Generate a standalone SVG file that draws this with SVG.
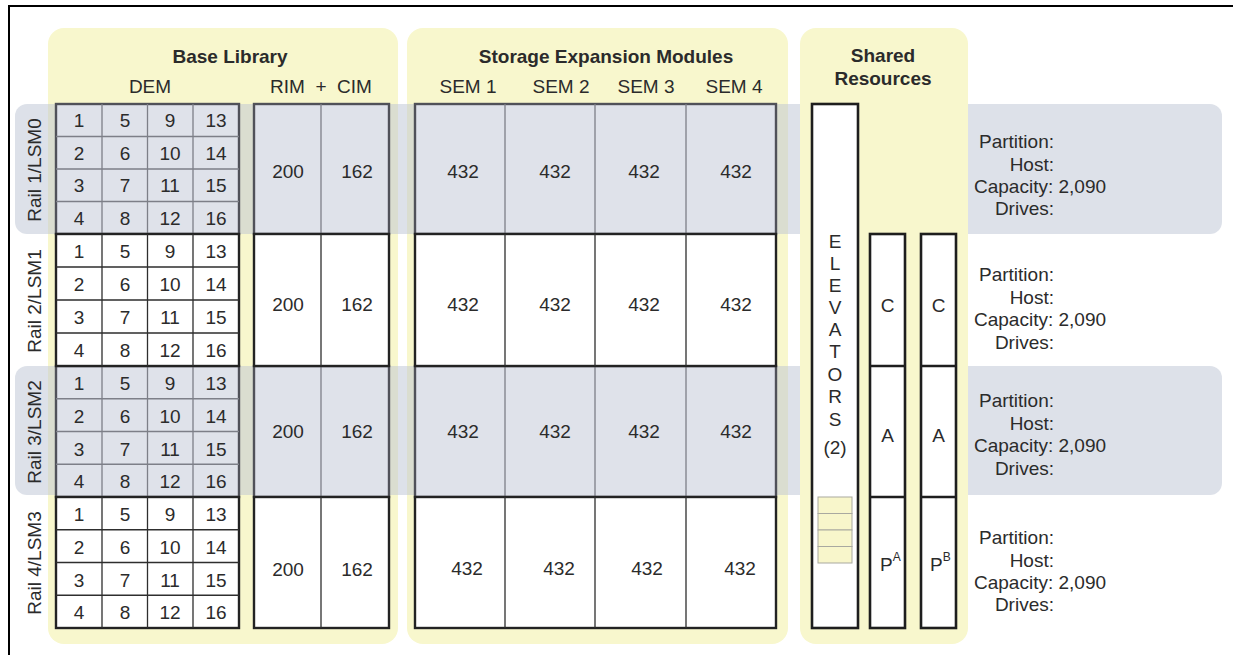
<svg xmlns="http://www.w3.org/2000/svg" width="1233" height="655" viewBox="0 0 1233 655">
<style>
text{font-family:"Liberation Sans",Arial,sans-serif;font-size:19px;fill:#2b2b2b}
.t{font-weight:bold}
.c{text-anchor:middle}
.e{text-anchor:end}
.panel{fill:#f8f7cd}
.band{fill:#bcc3d4;fill-opacity:0.5}
.gO{fill:#dfe2ea;stroke:#505159;stroke-width:2.4}
.gI{stroke:#7d7f88;stroke-width:1.3;fill:none}
.wO{fill:#fff;stroke:#232323;stroke-width:2.4}
.wI{stroke:#2e2e2e;stroke-width:1.3;fill:none}
.box{fill:#fff;stroke:#1e1e1e;stroke-width:2.6}
.stack{fill:#f8f6cb;stroke:#a9a9a0;stroke-width:1}
</style>
<g id="frame"><path d="M9,655V6H1233" fill="none" stroke="#000" stroke-width="2"/></g>
<g id="panels">
<rect class="panel" x="48" y="28" width="350" height="616" rx="16"/>
<rect class="panel" x="407" y="28" width="381" height="616" rx="16"/>
</g>
<g id="bands">
<rect class="band" x="15" y="104" width="1207" height="130" rx="12"/>
<rect class="band" x="15" y="366" width="1207" height="129" rx="12"/>
</g>
<g id="shared-panel"><rect class="panel" x="800" y="28" width="168" height="616" rx="16"/></g>
<g id="headers">
<text class="t c" x="230" y="63">Base Library</text>
<text class="c" x="150" y="93">DEM</text>
<text class="c" x="321" y="93" xml:space="preserve">RIM  +  CIM</text>
<text class="t c" x="606" y="63">Storage Expansion Modules</text>
<text class="c" x="468" y="93">SEM 1</text>
<text class="c" x="561" y="93">SEM 2</text>
<text class="c" x="646" y="93">SEM 3</text>
<text class="c" x="734" y="93">SEM 4</text>
<text class="t c" x="883" y="62">Shared</text>
<text class="t c" x="883" y="85">Resources</text>
</g>
<g id="rail1">
<text class="c" transform="translate(41,170) rotate(-90)">Rail 1/LSM0</text>
<g id="rail1-dem">
<rect class="gO" x="56" y="104" width="183" height="130"/>
<path class="gI" d="M102,104V234M147.5,104V234M193,104V234M56,136.5H239M56,169H239M56,201.5H239"/>
<text class="c" x="79" y="127">1</text><text class="c" x="125" y="127">5</text><text class="c" x="170" y="127">9</text><text class="c" x="216" y="127">13</text>
<text class="c" x="79" y="160">2</text><text class="c" x="125" y="160">6</text><text class="c" x="170" y="160">10</text><text class="c" x="216" y="160">14</text>
<text class="c" x="79" y="192">3</text><text class="c" x="125" y="192">7</text><text class="c" x="170" y="192">11</text><text class="c" x="216" y="192">15</text>
<text class="c" x="79" y="225">4</text><text class="c" x="125" y="225">8</text><text class="c" x="170" y="225">12</text><text class="c" x="216" y="225">16</text>
</g>
<g id="rail1-rimcim">
<rect class="gO" x="254" y="104" width="135" height="130"/>
<path class="gI" d="M321,104V234"/>
<text class="c" x="288" y="178">200</text><text class="c" x="357" y="178">162</text>
</g>
<g id="rail1-sem">
<rect class="gO" x="415" y="104" width="361" height="130"/>
<path class="gI" d="M505,104V234M595,104V234M686,104V234"/>
<text class="c" x="463" y="178">432</text><text class="c" x="555" y="178">432</text><text class="c" x="644" y="178">432</text><text class="c" x="736" y="178">432</text>
</g>
</g>
<g id="rail3">
<text class="c" transform="translate(41,432) rotate(-90)">Rail 3/LSM2</text>
<g id="rail3-dem">
<rect class="gO" x="56" y="366" width="183" height="131"/>
<path class="gI" d="M102,366V497M147.5,366V497M193,366V497M56,398.75H239M56,431.5H239M56,464.25H239"/>
<text class="c" x="79" y="390">1</text><text class="c" x="125" y="390">5</text><text class="c" x="170" y="390">9</text><text class="c" x="216" y="390">13</text>
<text class="c" x="79" y="422.5">2</text><text class="c" x="125" y="422.5">6</text><text class="c" x="170" y="422.5">10</text><text class="c" x="216" y="422.5">14</text>
<text class="c" x="79" y="455.5">3</text><text class="c" x="125" y="455.5">7</text><text class="c" x="170" y="455.5">11</text><text class="c" x="216" y="455.5">15</text>
<text class="c" x="79" y="488">4</text><text class="c" x="125" y="488">8</text><text class="c" x="170" y="488">12</text><text class="c" x="216" y="488">16</text>
</g>
<g id="rail3-rimcim">
<rect class="gO" x="254" y="366" width="135" height="131"/>
<path class="gI" d="M321,366V497"/>
<text class="c" x="288" y="438">200</text><text class="c" x="357" y="438">162</text>
</g>
<g id="rail3-sem">
<rect class="gO" x="415" y="366" width="361" height="131"/>
<path class="gI" d="M505,366V497M595,366V497M686,366V497"/>
<text class="c" x="463" y="438">432</text><text class="c" x="555" y="438">432</text><text class="c" x="644" y="438">432</text><text class="c" x="736" y="438">432</text>
</g>
</g>
<g id="rail2">
<text class="c" transform="translate(41,301) rotate(-90)">Rail 2/LSM1</text>
<g id="rail2-dem">
<rect class="wO" x="56" y="234" width="183" height="132"/>
<path class="wI" d="M102,234V366M147.5,234V366M193,234V366M56,267H239M56,300H239M56,333H239"/>
<text class="c" x="79" y="258">1</text><text class="c" x="125" y="258">5</text><text class="c" x="170" y="258">9</text><text class="c" x="216" y="258">13</text>
<text class="c" x="79" y="291">2</text><text class="c" x="125" y="291">6</text><text class="c" x="170" y="291">10</text><text class="c" x="216" y="291">14</text>
<text class="c" x="79" y="324">3</text><text class="c" x="125" y="324">7</text><text class="c" x="170" y="324">11</text><text class="c" x="216" y="324">15</text>
<text class="c" x="79" y="357">4</text><text class="c" x="125" y="357">8</text><text class="c" x="170" y="357">12</text><text class="c" x="216" y="357">16</text>
</g>
<g id="rail2-rimcim">
<rect class="wO" x="254" y="234" width="135" height="132"/>
<path class="wI" d="M321,234V366"/>
<text class="c" x="288" y="311">200</text><text class="c" x="357" y="311">162</text>
</g>
<g id="rail2-sem">
<rect class="wO" x="415" y="234" width="361" height="132"/>
<path class="wI" d="M505,234V366M595,234V366M686,234V366"/>
<text class="c" x="463" y="311">432</text><text class="c" x="555" y="311">432</text><text class="c" x="644" y="311">432</text><text class="c" x="736" y="311">432</text>
</g>
</g>
<g id="rail4">
<text class="c" transform="translate(41,563) rotate(-90)">Rail 4/LSM3</text>
<g id="rail4-dem">
<rect class="wO" x="56" y="497" width="183" height="131"/>
<path class="wI" d="M102,497V628M147.5,497V628M193,497V628M56,529.75H239M56,562.5H239M56,595.25H239"/>
<text class="c" x="79" y="521">1</text><text class="c" x="125" y="521">5</text><text class="c" x="170" y="521">9</text><text class="c" x="216" y="521">13</text>
<text class="c" x="79" y="553.5">2</text><text class="c" x="125" y="553.5">6</text><text class="c" x="170" y="553.5">10</text><text class="c" x="216" y="553.5">14</text>
<text class="c" x="79" y="586.5">3</text><text class="c" x="125" y="586.5">7</text><text class="c" x="170" y="586.5">11</text><text class="c" x="216" y="586.5">15</text>
<text class="c" x="79" y="619">4</text><text class="c" x="125" y="619">8</text><text class="c" x="170" y="619">12</text><text class="c" x="216" y="619">16</text>
</g>
<g id="rail4-rimcim">
<rect class="wO" x="254" y="497" width="135" height="131"/>
<path class="wI" d="M321,497V628"/>
<text class="c" x="288" y="576">200</text><text class="c" x="357" y="576">162</text>
</g>
<g id="rail4-sem">
<rect class="wO" x="415" y="497" width="361" height="131"/>
<path class="wI" d="M505,497V628M595,497V628M686,497V628"/>
<text class="c" x="467" y="575">432</text><text class="c" x="559" y="575">432</text><text class="c" x="647" y="575">432</text><text class="c" x="740" y="575">432</text>
</g>
</g>
<g id="elevators">
<rect class="box" x="812" y="104" width="46" height="524"/>
<text class="c" x="835" y="248">E</text>
<text class="c" x="835" y="270">L</text>
<text class="c" x="835" y="292">E</text>
<text class="c" x="835" y="314">V</text>
<text class="c" x="835" y="336">A</text>
<text class="c" x="835" y="358">T</text>
<text class="c" x="835" y="381">O</text>
<text class="c" x="835" y="403">R</text>
<text class="c" x="835" y="426">S</text>
<text class="c" x="835" y="454">(2)</text>
<g id="elevator-stack">
<rect class="stack" x="818" y="497" width="34" height="16.5"/>
<rect class="stack" x="818" y="513.5" width="34" height="16.5"/>
<rect class="stack" x="818" y="530" width="34" height="16.5"/>
<rect class="stack" x="818" y="546.5" width="34" height="16.5"/>
</g>
</g>
<g id="column-a">
<rect class="box" x="870" y="234" width="35" height="394"/>
<path d="M870,366H905M870,497H905" stroke="#1e1e1e" stroke-width="2.6"/>
<text class="c" x="887.5" y="312">C</text>
<text class="c" x="887.5" y="442">A</text>
<text x="880" y="571">P<tspan font-size="12" dy="-10">A</tspan></text>
</g>
<g id="column-b">
<rect class="box" x="921" y="234" width="35" height="394"/>
<path d="M921,366H956M921,497H956" stroke="#1e1e1e" stroke-width="2.6"/>
<text class="c" x="938.5" y="312">C</text>
<text class="c" x="938.5" y="442">A</text>
<text x="930" y="571">P<tspan font-size="12" dy="-10">B</tspan></text>
</g>
<g id="info1">
<text class="e" x="1054" y="148">Partition:</text>
<text class="e" x="1054" y="170.5">Host:</text>
<text x="974" y="192.5">Capacity: 2,090</text>
<text class="e" x="1054" y="215">Drives:</text>
</g>
<g id="info2">
<text class="e" x="1054" y="281">Partition:</text>
<text class="e" x="1054" y="304">Host:</text>
<text x="974" y="326">Capacity: 2,090</text>
<text class="e" x="1054" y="349">Drives:</text>
</g>
<g id="info3">
<text class="e" x="1054" y="407">Partition:</text>
<text class="e" x="1054" y="430">Host:</text>
<text x="974" y="452">Capacity: 2,090</text>
<text class="e" x="1054" y="475">Drives:</text>
</g>
<g id="info4">
<text class="e" x="1054" y="544">Partition:</text>
<text class="e" x="1054" y="566.5">Host:</text>
<text x="974" y="588.5">Capacity: 2,090</text>
<text class="e" x="1054" y="611">Drives:</text>
</g>
<g id="connectors"/>
</svg>
